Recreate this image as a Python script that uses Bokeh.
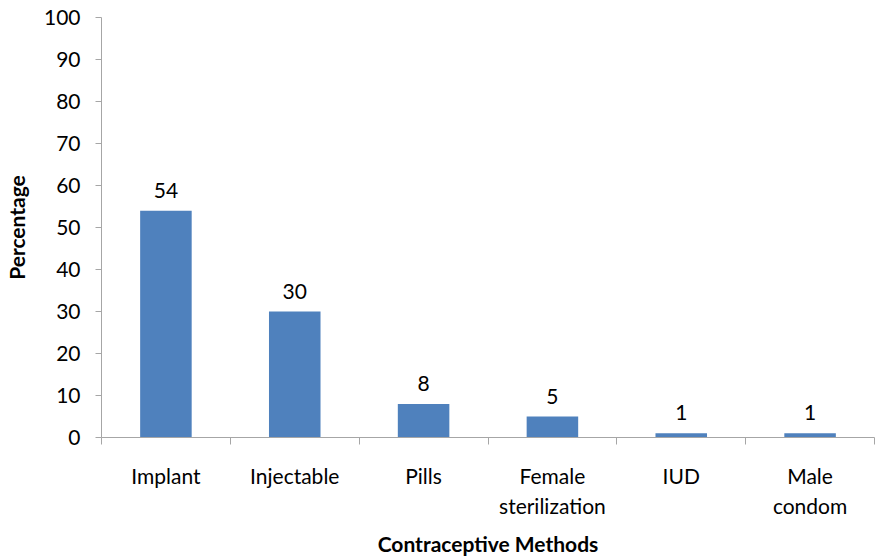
from bokeh.plotting import figure
from bokeh.models import Range1d, FixedTicker, ColumnDataSource, LabelSet
from bokeh.core.properties import value
from bokeh.embed import file_html
from bokeh.resources import INLINE

categories = ["Implant", "Injectable", "Pills", "Female\nsterilization", "IUD", "Male\ncondom"]
values = [54, 30, 8, 5, 1, 1]
y_ticks = [0, 10, 20, 30, 40, 50, 60, 70, 80, 90, 100]

FONT = "Lato"
AXIS_COLOR = "#A6A6A6"
BAR_COLOR = "#4F81BD"

xs = [i + 0.5 for i in range(len(categories))]
src = ColumnDataSource(dict(x=xs, top=values, label=[str(v) for v in values]))

p = figure(width=875, height=559, output_backend="svg", toolbar_location=None,
           x_range=Range1d(0, len(categories)), y_range=Range1d(0, 100),
           min_border_left=101, min_border_right=1, min_border_top=17, min_border_bottom=122)
p.outline_line_color = None
p.xgrid.visible = False
p.ygrid.visible = False

p.vbar(x="x", top="top", width=0.4, source=src, fill_color=BAR_COLOR, line_color=None)

labels = LabelSet(x="x", y="top", text="label", source=src, text_align="center",
                  text_baseline="bottom", y_offset=13, text_font=value(FONT),
                  text_font_size="21px", text_color="#000000")
p.add_layout(labels)

# x axis
p.xaxis.ticker = FixedTicker(ticks=xs, minor_ticks=list(range(len(categories) + 1)))
p.xaxis.major_label_overrides = {x: c for x, c in zip(xs, categories)}
p.xaxis.major_tick_out = 0
p.xaxis.major_tick_in = 0
p.xaxis.minor_tick_out = 7
p.xaxis.minor_tick_in = 0
p.xaxis.minor_tick_line_color = AXIS_COLOR
p.xaxis.axis_line_color = AXIS_COLOR
p.xaxis.major_label_standoff = 18
p.xaxis.major_label_text_font = FONT
p.xaxis.major_label_text_font_size = "21px"
p.xaxis.major_label_text_color = "#000000"
p.xaxis.axis_label = "Contraceptive Methods"
p.xaxis.axis_label_text_font = FONT
p.xaxis.axis_label_text_font_size = "21px"
p.xaxis.axis_label_text_font_style = "bold"
p.xaxis.axis_label_text_color = "#000000"
p.xaxis.axis_label_standoff = 10

# y axis
p.yaxis.ticker = FixedTicker(ticks=y_ticks)
p.yaxis.major_tick_out = 6
p.yaxis.major_tick_in = 0
p.yaxis.minor_tick_out = 0
p.yaxis.minor_tick_in = 0
p.yaxis.major_tick_line_color = AXIS_COLOR
p.yaxis.axis_line_color = AXIS_COLOR
p.yaxis.major_label_standoff = 15
p.yaxis.major_label_text_font = FONT
p.yaxis.major_label_text_font_size = "21px"
p.yaxis.major_label_text_color = "#000000"
p.yaxis.axis_label = "Percentage"
p.yaxis.axis_label_text_font = FONT
p.yaxis.axis_label_text_font_size = "21px"
p.yaxis.axis_label_text_font_style = "bold"
p.yaxis.axis_label_text_color = "#000000"
p.yaxis.axis_label_standoff = 12

open("out.html", "w").write(file_html(p, INLINE))
